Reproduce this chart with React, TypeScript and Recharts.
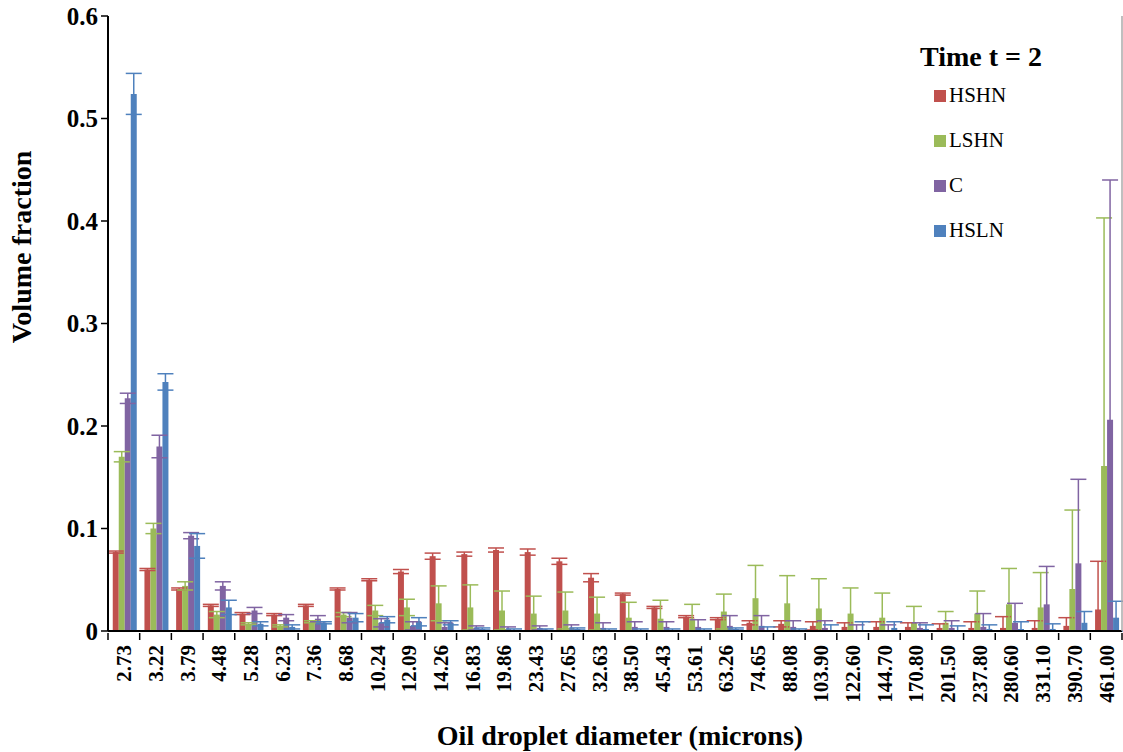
import React from "react";
import {
  BarChart,
  Bar,
  XAxis,
  YAxis,
  ErrorBar,
  Label,
} from "recharts";

const categories = [
  "2.73", "3.22", "3.79", "4.48", "5.28", "6.23", "7.36", "8.68",
  "10.24", "12.09", "14.26", "16.83", "19.86", "23.43", "27.65", "32.63",
  "38.50", "45.43", "53.61", "63.26", "74.65", "88.08", "103.90", "122.60",
  "144.70", "170.80", "201.50", "237.80", "280.60", "331.10", "390.70", "461.00",
];

const hshn = [
  0.077, 0.06, 0.041, 0.025, 0.017, 0.016, 0.025, 0.041, 0.05, 0.058, 0.073, 0.075,
  0.079, 0.077, 0.068, 0.052, 0.036, 0.023, 0.014, 0.012, 0.008, 0.007, 0.005, 0.004,
  0.004, 0.004, 0.003, 0.003, 0.003, 0.003, 0.005, 0.021,
];
const lshn = [
  0.17, 0.1, 0.044, 0.016, 0.007, 0.005, 0.009, 0.016, 0.02, 0.023, 0.027, 0.023,
  0.02, 0.017, 0.02, 0.017, 0.013, 0.012, 0.012, 0.019, 0.032, 0.027, 0.022, 0.017,
  0.013, 0.008, 0.008, 0.017, 0.026, 0.023, 0.041, 0.161,
];
const cValues = [
  0.227, 0.18, 0.093, 0.044, 0.02, 0.013, 0.012, 0.013, 0.008, 0.005, 0.004, 0.003,
  0.002, 0.003, 0.003, 0.003, 0.004, 0.004, 0.004, 0.005, 0.005, 0.004, 0.003, 0.001,
  0.001, 0.003, 0.003, 0.004, 0.008, 0.026, 0.066, 0.206,
];
const hsln = [
  0.524, 0.243, 0.083, 0.023, 0.007, 0.004, 0.008, 0.013, 0.011, 0.009, 0.008, 0.002,
  0.001, 0.001, 0.002, 0.001, 0.001, 0.001, 0.001, 0.002, 0.001, 0.001, 0.001, 0.001,
  0.003, 0.002, 0.001, 0.002, 0.002, 0.002, 0.008, 0.013,
];

const hshnErr = [
  0.001, 0.001, 0.001, 0.001, 0.001, 0.001, 0.001, 0.001, 0.001, 0.002, 0.003, 0.002,
  0.002, 0.003, 0.003, 0.004, 0.001, 0.001, 0.001, 0.001, 0.002, 0.003, 0.004, 0.004,
  0.005, 0.004, 0.004, 0.006, 0.011, 0.007, 0.008, 0.047,
];
const lshnErr = [
  0.005, 0.005, 0.004, 0.003, 0.001, 0.001, 0.001, 0.002, 0.005, 0.008, 0.017, 0.022,
  0.019, 0.017, 0.018, 0.016, 0.015, 0.018, 0.014, 0.017, 0.032, 0.027, 0.029, 0.025,
  0.024, 0.016, 0.011, 0.022, 0.035, 0.034, 0.077, 0.242,
];
const cErr = [
  0.005, 0.011, 0.003, 0.004, 0.003, 0.003, 0.003, 0.005, 0.004, 0.004, 0.004, 0.002,
  0.002, 0.002, 0.003, 0.005, 0.005, 0.005, 0.007, 0.01, 0.01, 0.006, 0.007, 0.005,
  0.005, 0.005, 0.007, 0.013, 0.019, 0.037, 0.082, 0.234,
];
const hslnErr = [
  0.02, 0.008, 0.012, 0.007, 0.002, 0.002, 0.001, 0.004, 0.003, 0.004, 0.002, 0.001,
  0.001, 0.001, 0.001, 0.001, 0.001, 0.001, 0.001, 0.001, 0.003, 0.001, 0.005, 0.008,
  0.006, 0.004, 0.004, 0.004, 0.007, 0.005, 0.011, 0.016,
];

const yTicks = [0, 0.1, 0.2, 0.3, 0.4, 0.5, 0.6];

const series = [
  { key: "HSHN", values: hshn, err: hshnErr, color: "#C0504D" },
  { key: "LSHN", values: lshn, err: lshnErr, color: "#9BBB59" },
  { key: "C", values: cValues, err: cErr, color: "#8064A2" },
  { key: "HSLN", values: hsln, err: hslnErr, color: "#4F81BD" },
];

// lower half of each error bar is hidden by the bar, never below zero
const data = categories.map((cat, i) => {
  const row: Record<string, any> = { cat };
  series.forEach((s) => {
    row[s.key] = s.values[i];
    row[s.key + "Err"] = [Math.min(s.err[i], s.values[i]), s.err[i]];
  });
  return row;
});

const FONT = "'Liberation Serif', 'Times New Roman', serif";
const W = 1123;
const H = 752;
const LEFT = 108;
const RIGHT = 1122;
const band = (RIGHT - LEFT) / categories.length;

function XTick(props: any) {
  const { x, y, payload, index } = props;
  const bx = x - band / 2;
  return (
    <g>
      <line x1={bx} y1={y} x2={bx} y2={y + 7} stroke="#000" strokeWidth={1.5} />
      {index === categories.length - 1 && (
        <line x1={x + band / 2} y1={y} x2={x + band / 2} y2={y + 7} stroke="#000" strokeWidth={1.5} />
      )}
      <text
        x={x}
        y={y + 12}
        transform={`rotate(-90, ${x}, ${y + 12})`}
        textAnchor="end"
        dy="0.35em"
        fontFamily={FONT}
        fontWeight="bold"
        fontSize={21}
        fill="#000"
      >
        {payload.value}
      </text>
    </g>
  );
}

function LegendBox() {
  return (
    <div
      style={{
        position: "absolute",
        left: 920,
        top: 41,
        fontFamily: FONT,
        color: "#000",
      }}
    >
      <div style={{ fontWeight: "bold", fontSize: 28, lineHeight: "32px" }}>Time t = 2</div>
      {series.map((s) => (
        <div
          key={s.key}
          style={{ display: "flex", alignItems: "center", height: 45, marginLeft: 14 }}
        >
          <span
            style={{ width: 12, height: 12, background: s.color, display: "inline-block", marginRight: 3 }}
          />
          <span style={{ fontSize: 21 }}>{s.key}</span>
        </div>
      ))}
    </div>
  );
}

export default function App() {
  return (
    <div style={{ position: "fixed", left: 0, top: 0, width: W, height: H, background: "#fff" }}>
      <BarChart
        width={W}
        height={H}
        data={data}
        margin={{ top: 16, right: 0, left: 0, bottom: 0 }}
        barCategoryGap="15%"
        barGap={0}
      >
        <XAxis
          xAxisId="top"
          orientation="top"
          dataKey="cat"
          height={0}
          tick={false}
          tickLine={false}
          axisLine={{ stroke: "#404040", strokeWidth: 1.5 }}
        />
        <XAxis
          dataKey="cat"
          height={121}
          interval={0}
          tickSize={0}
          tickLine={false}
          tick={<XTick />}
          axisLine={{ stroke: "#000", strokeWidth: 2 }}
        >
          <Label
            content={() => (
              <text
                x={(LEFT + RIGHT) / 2 + 5}
                y={745}
                textAnchor="middle"
                fontFamily={FONT}
                fontWeight="bold"
                fontSize={28}
                fill="#000"
              >
                Oil droplet diameter (microns)
              </text>
            )}
          />
        </XAxis>
        <YAxis
          width={LEFT}
          domain={[0, 0.6]}
          allowDataOverflow
          ticks={yTicks}
          interval={0}
          tickSize={7}
          tickMargin={3}
          tickFormatter={(v: number) => (v === 0 ? "0" : v.toFixed(1))}
          tick={{ fontFamily: FONT, fontWeight: "bold", fontSize: 25, fill: "#000" }}
          tickLine={{ stroke: "#000", strokeWidth: 1.5 }}
          axisLine={{ stroke: "#000", strokeWidth: 2 }}
        >
          <Label
            content={() => (
              <text
                x={31}
                y={247}
                transform="rotate(-90, 31, 247)"
                textAnchor="middle"
                fontFamily={FONT}
                fontWeight="bold"
                fontSize={28}
                fill="#000"
              >
                Volume fraction
              </text>
            )}
          />
        </YAxis>
        <YAxis
          yAxisId="right"
          orientation="right"
          width={1}
          tick={false}
          tickLine={false}
          axisLine={{ stroke: "#aaaaaa", strokeWidth: 1.5 }}
        />
        {series.map((s) => (
          <Bar key={s.key} dataKey={s.key} fill={s.color} isAnimationActive={false}>
            <ErrorBar
              dataKey={s.key + "Err"}
              width={8}
              stroke={s.color}
              strokeWidth={1.5}
              direction="y"
            />
          </Bar>
        ))}
      </BarChart>
      <LegendBox />
    </div>
  );
}
